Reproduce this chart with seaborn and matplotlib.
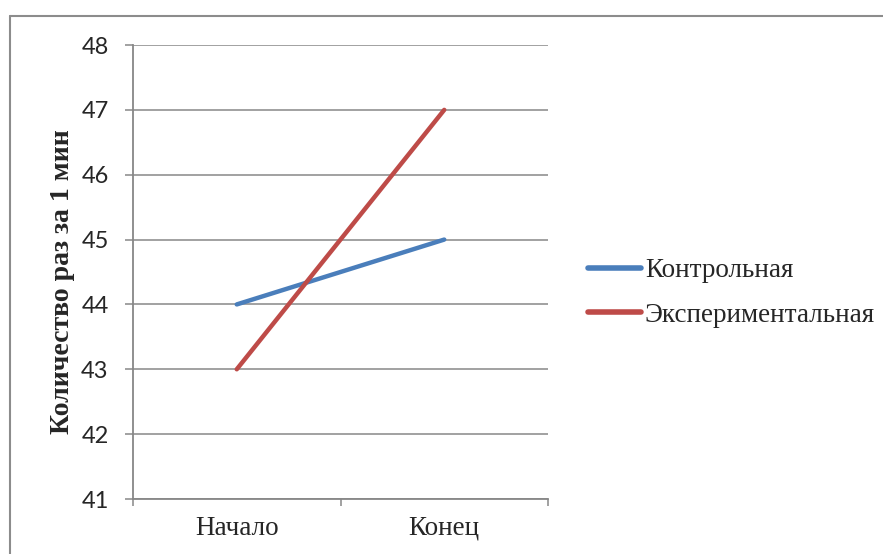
import matplotlib
matplotlib.use("Agg")
import matplotlib.pyplot as plt
from matplotlib.lines import Line2D
from matplotlib.ticker import FixedLocator
import seaborn as sns
import pandas as pd

categories = ["Начало", "Конец"]
series_names = ["Контрольная", "Экспериментальная"]
control_values = [44, 45]
experimental_values = [43, 47]
y_ticks = [41, 42, 43, 44, 45, 46, 47, 48]
y_label = "Количество раз за 1 мин"

colors = ["#4A7EBB", "#BE4B48"]

df = pd.DataFrame({
    "stage": categories * 2,
    "value": control_values + experimental_values,
    "group": [series_names[0]] * 2 + [series_names[1]] * 2,
})

sns.set_style("white")
fig = plt.figure(figsize=(8.83, 5.54), dpi=100)
ax = fig.add_axes([133 / 883, 1 - 499 / 554, (548 - 133) / 883, (499 - 45) / 554])

sns.lineplot(data=df, x="stage", y="value", hue="group", palette=colors,
             linewidth=3.2, ax=ax, sort=False, solid_capstyle="round")

grid_c = "#878787"
ax.set_xlim(-0.5, 1.5)
ax.set_ylim(41, 48)
ax.set_yticks(y_ticks)
ax.yaxis.grid(True, color=grid_c, linewidth=1.1)
ax.xaxis.grid(False)
for s in ["top", "right"]:
    ax.spines[s].set_visible(False)
for s in ["left", "bottom"]:
    ax.spines[s].set_color(grid_c)
    ax.spines[s].set_linewidth(1.3)

ax.tick_params(axis="y", which="major", left=True, length=5.5, width=1.1, color=grid_c,
               pad=12, labelsize=17)
for t in ax.get_yticklabels():
    t.set_fontfamily("Lato")
ax.set_xticks([0, 1])
ax.set_xticklabels(categories, fontfamily="Liberation Serif", fontsize=19.5)
ax.tick_params(axis="x", which="major", bottom=False, length=0, pad=12)
ax.xaxis.set_minor_locator(FixedLocator([-0.5, 0.5, 1.5]))
ax.tick_params(axis="x", which="minor", bottom=True, length=5, width=1.1, color=grid_c)

ax.set_xlabel("")
ax.set_ylabel(y_label, fontfamily="Liberation Serif", fontweight="bold", fontsize=20)
ax.yaxis.set_label_coords(-0.14, 0.479)

leg = ax.legend(loc="center left", bbox_to_anchor=(588 / 883, 1 - 293 / 554),
                bbox_transform=fig.transFigure, frameon=False,
                prop={"family": "Liberation Serif", "size": 19.5},
                handlelength=1.95, handletextpad=0.15, labelspacing=0.72,
                borderpad=0, borderaxespad=0)
for h in leg.get_lines():
    h.set_linewidth(4)

# outer chart frame (partially visible)
fig.add_artist(Line2D([10 / 883, 10 / 883], [0, 1 - 16 / 554], transform=fig.transFigure,
                      color="#8c8c8c", linewidth=1.5))
fig.add_artist(Line2D([10 / 883, 1], [1 - 16 / 554, 1 - 16 / 554], transform=fig.transFigure,
                      color="#8c8c8c", linewidth=1.5))

fig.savefig("out.png", dpi=100)
